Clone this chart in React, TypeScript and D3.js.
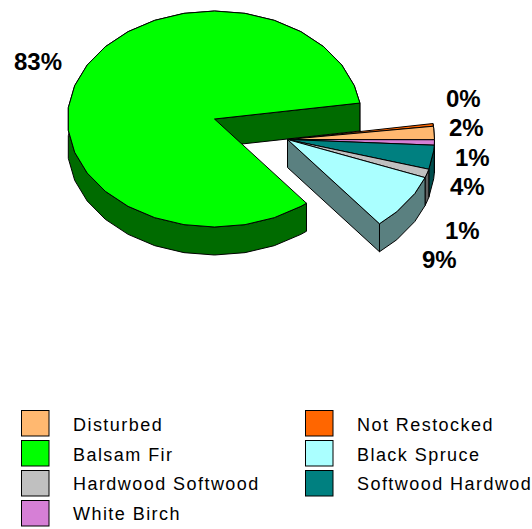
import React from "react";
import * as d3 from "d3";

// Share of each forest type, in clockwise order from the upper right of the pie.
const categories = ["Not Restocked", "Disturbed", "White Birch", "Softwood Hardwod", "Hardwood Softwood", "Black Spruce", "Balsam Fir"];
const shares = [0.4, 2.0, 0.8, 3.6, 1.3, 8.5, 83.4];
const topColors = ["#ff6600", "#ffb870", "#d67fd6", "#008080", "#c0c0c0", "#aaffff", "#00ff00"];
const sideColors = ["#803300", "#805c38", "#6b406b", "#004d4d", "#606060", "#5a8080", "#006b00"];

// Legend reading order: two columns, filled row by row.
const legendLeft = ["Disturbed", "Balsam Fir", "Hardwood Softwood", "White Birch"];
const legendRight = ["Not Restocked", "Black Spruce", "Softwood Hardwod"];

const WIDTH = 532;
const HEIGHT = 529;
const RX = 147;
const RY = 108;
const DEPTH = 28;
const FACET = (12 * Math.PI) / 180;
const FIRST_ANGLE = (81.5 * Math.PI) / 180;
const MAIN_CENTER: [number, number] = [214.5, 119];
const EXPLODED_CENTER: [number, number] = [287.5, 139.5];
const TEXT_FONT = "'Liberation Sans', Arial, sans-serif";

// Hand-placed label anchors, keyed by category.
const labelAnchors: Record<string, [number, number]> = {
  "Not Restocked": [446, 107],
  Disturbed: [449, 136],
  "White Birch": [455, 166],
  "Softwood Hardwod": [450, 195],
  "Hardwood Softwood": [445, 239],
  "Black Spruce": [422, 268],
  "Balsam Fir": [14, 70],
};

type Pt = [number, number];

const project = (c: Pt, a: number, dy = 0): Pt => [c[0] + RX * Math.sin(a), c[1] - RY * Math.cos(a) + dy];

// The rim is a faceted polyline rather than a true ellipse.
const rim = (c: Pt, a0: number, a1: number, dy = 0): Pt[] => {
  const inner = d3.range(Math.ceil(a0 / FACET), Math.floor(a1 / FACET) + 1).map((i) => i * FACET).filter((a) => a > a0 && a < a1);
  return [a0, ...inner, a1].map((a) => project(c, a, dy));
};

const poly = (pts: Pt[]) => d3.line()(pts)! + "Z";

const pieLayout = d3
  .pie<number>()
  .sort(null)
  .startAngle(FIRST_ANGLE)
  .endAngle(FIRST_ANGLE + 2 * Math.PI);

export default function App() {
  const arcs = pieLayout(shares);
  const main = arcs[arcs.length - 1];
  const rest = arcs.slice(0, -1);
  const spruce = rest[rest.length - 1];
  const stroke = { stroke: "#000", strokeWidth: 1, strokeLinejoin: "round" as const };

  const band = (c: Pt, a0: number, a1: number) => {
    const top = rim(c, a0, a1);
    const bottom = rim(c, a0, a1, DEPTH).reverse();
    return poly([...top, ...bottom]);
  };
  const wall = (c: Pt, a: number) => {
    const e = project(c, a);
    return poly([c, e, [e[0], e[1] + DEPTH], [c[0], c[1] + DEPTH]]);
  };
  const face = (c: Pt, a0: number, a1: number) => poly([c, ...rim(c, a0, a1)]);

  const rows = [
    ...legendLeft.map((name, i) => ({ name, col: 0, i })),
    ...legendRight.map((name, i) => ({ name, col: 1, i })),
  ];
  const legendX = d3.scaleOrdinal<number, number>().domain([0, 1]).range([21.5, 305.5]);
  const swatchY = d3.scaleLinear().domain([0, 3]).range([410.5, 500.5]);
  const labelY = d3.scaleLinear().domain([0, 3]).range([431, 519.5]);

  return (
    <svg
      width={WIDTH}
      height={HEIGHT}
      viewBox={`0 0 ${WIDTH} ${HEIGHT}`}
      style={{ position: "absolute", left: 0, top: 0, display: "block", background: "#fff" }}
    >
      {/* Large slice: outer band and cut wall first, then its top face */}
      <path d={band(MAIN_CENTER, main.startAngle, main.endAngle)} fill={sideColors[6]} {...stroke} />
      <path d={wall(MAIN_CENTER, main.endAngle)} fill={sideColors[6]} {...stroke} />
      <path d={face(MAIN_CENTER, main.startAngle, main.endAngle)} fill={topColors[6]} {...stroke} />

      {/* Pulled-out group of small slices */}
      {rest.map((d, i) => (
        <path key={`band-${i}`} d={band(EXPLODED_CENTER, d.startAngle, d.endAngle)} fill={sideColors[i]} {...stroke} />
      ))}
      <path d={wall(EXPLODED_CENTER, spruce.endAngle)} fill={sideColors[5]} {...stroke} />
      {rest.map((d, i) => (
        <path key={`face-${i}`} d={face(EXPLODED_CENTER, d.startAngle, d.endAngle)} fill={topColors[i]} {...stroke} />
      ))}

      {/* Percentage labels */}
      {categories.map((name, i) => (
        <text
          key={name}
          x={labelAnchors[name][0]}
          y={labelAnchors[name][1]}
          fontFamily={TEXT_FONT}
          fontWeight="bold"
          fontSize={24}
          fill="#000"
        >
          {`${Math.round(shares[i])}%`}
        </text>
      ))}

      {/* Legend */}
      {rows.map(({ name, col, i }) => (
        <g key={name}>
          <rect
            x={legendX(col)}
            y={swatchY(i)}
            width={27.5}
            height={25.5}
            fill={topColors[categories.indexOf(name)]}
            stroke="#000"
            strokeWidth={1}
          />
          <text
            x={legendX(col) + 51.5}
            y={labelY(i)}
            fontFamily={TEXT_FONT}
            fontSize={18}
            letterSpacing={1.45}
            fill="#000"
          >
            {name}
          </text>
        </g>
      ))}
    </svg>
  );
}
